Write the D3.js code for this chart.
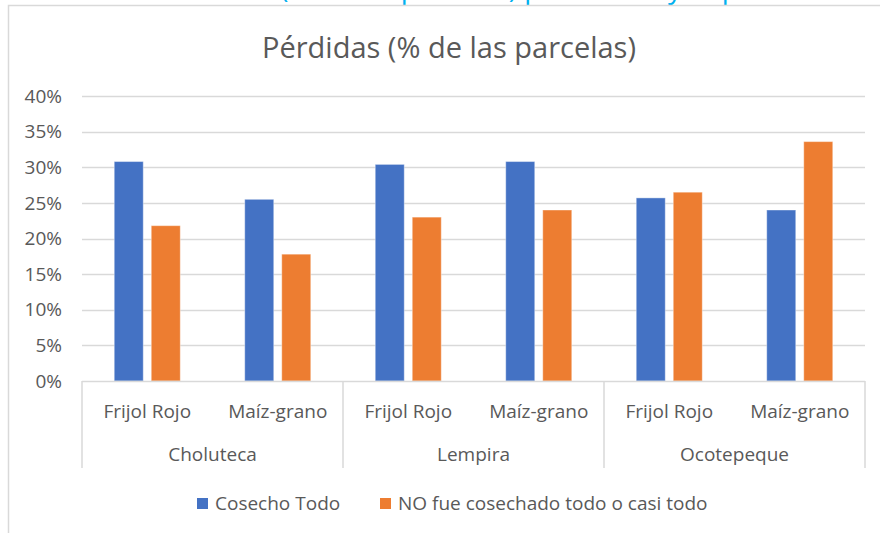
<!DOCTYPE html>
<html>
<head>
<meta charset="utf-8">
<script src="https://cdn.jsdelivr.net/npm/d3@7"></script>
<style>
  body { margin: 0; background: #fff; }
  svg text { font-family: "Open Sans", sans-serif; fill: #595959; }
</style>
</head>
<body>
<div id="chart"></div>
<script>
const groups = ["Choluteca", "Lempira", "Ocotepeque"];
const crops = ["Frijol Rojo", "Maíz-grano"];
const seriesNames = ["Cosecho Todo", "NO fue cosechado todo o casi todo"];
// % of plots, order: Choluteca FR, Choluteca MG, Lempira FR, Lempira MG, Ocotepeque FR, Ocotepeque MG
const cosechoTodo = [30.8, 25.5, 30.4, 30.8, 25.7, 24.0];
const noCosechado = [21.8, 17.8, 23.0, 24.0, 26.5, 33.6];
const yTicks = [0, 5, 10, 15, 20, 25, 30, 35, 40];
const colors = ["#4472C4", "#ED7D31"];

const width = 880, height = 533;
const margin = { top: 96, right: 15, bottom: 152, left: 82 };

const rows = [];
groups.forEach((g, gi) => {
  crops.forEach((c, ci) => {
    const i = gi * crops.length + ci;
    rows.push({ key: g + "|" + c, group: g, crop: c, values: [cosechoTodo[i], noCosechado[i]] });
  });
});

const svg = d3.select("#chart").append("svg")
  .attr("width", width).attr("height", height);

// heading of the page, cut off above the chart frame
svg.append("text")
  .attr("x", 160).attr("y", -2)
  .style("font-size", "27.7px")
  .style("fill", "#00B0F0")
  .text("Pérdidas (% de las parcelas) por cultivo y departamento");

// chart frame
svg.append("path")
  .attr("d", `M8.5,${height} V5.5 H${width}`)
  .attr("fill", "none").attr("stroke", "#d9d9d9").attr("stroke-width", 1.5);

svg.append("text")
  .attr("x", 449).attr("y", 58)
  .attr("text-anchor", "middle")
  .style("font-size", "29px")
  .text("Pérdidas (% de las parcelas)");

const x0 = d3.scaleBand()
  .domain(rows.map((d) => d.key))
  .range([margin.left, width - margin.right])
  .paddingInner(0.494).paddingOuter(0.247);

const x1 = d3.scaleBand()
  .domain(seriesNames)
  .range([0, x0.bandwidth()])
  .paddingInner(0.216);

const y = d3.scaleLinear()
  .domain([0, 40])
  .range([height - margin.bottom, margin.top]);

// gridlines
svg.append("g")
  .selectAll("line")
  .data(yTicks.slice(1))
  .join("line")
  .attr("x1", margin.left).attr("x2", width - margin.right)
  .attr("y1", (d) => Math.round(y(d)) + 0.5).attr("y2", (d) => Math.round(y(d)) + 0.5)
  .attr("stroke", "#d9d9d9").attr("stroke-width", 1.5);

// y tick labels
svg.append("g")
  .selectAll("text")
  .data(yTicks)
  .join("text")
  .attr("x", 62).attr("y", (d) => y(d))
  .attr("dy", "0.35em")
  .attr("text-anchor", "end")
  .style("font-size", "19px")
  .text((d) => d + "%");

// bars
svg.append("g")
  .selectAll("g")
  .data(rows)
  .join("g")
  .attr("transform", (d) => `translate(${x0(d.key)},0)`)
  .selectAll("rect")
  .data((d) => d.values.map((v, i) => ({ series: seriesNames[i], value: v, i })))
  .join("rect")
  .attr("x", (d) => x1(d.series))
  .attr("width", x1.bandwidth())
  .attr("y", (d) => y(d.value))
  .attr("height", (d) => y(0) - y(d.value))
  .attr("fill", (d) => colors[d.i])
  .attr("stroke", "#fff").attr("stroke-opacity", 0.4).attr("stroke-width", 1);

// category axis
const axisY = y(0);
const step = x0.step();
const axis = svg.append("g").attr("stroke", "#d9d9d9").attr("stroke-width", 1.5);
axis.append("line")
  .attr("x1", margin.left).attr("x2", width - margin.right)
  .attr("y1", axisY + 0.5).attr("y2", axisY + 0.5);
const groupEdges = d3.range(groups.length + 1).map((i) => margin.left + i * step * crops.length);
axis.selectAll("line.sep")
  .data(groupEdges)
  .join("line")
  .attr("class", "sep")
  .attr("x1", (d) => d).attr("x2", (d) => d)
  .attr("y1", axisY).attr("y2", 468);

svg.append("g")
  .selectAll("text")
  .data(rows)
  .join("text")
  .attr("x", (d) => x0(d.key) + x0.bandwidth() / 2)
  .attr("y", 418)
  .attr("text-anchor", "middle")
  .style("font-size", "19px")
  .text((d) => d.crop);

svg.append("g")
  .selectAll("text")
  .data(groups)
  .join("text")
  .attr("x", (d, i) => (groupEdges[i] + groupEdges[i + 1]) / 2)
  .attr("y", 461)
  .attr("text-anchor", "middle")
  .style("font-size", "19px")
  .text((d) => d);

// legend
const legendX = [197, 380];
const legend = svg.append("g")
  .selectAll("g")
  .data(seriesNames)
  .join("g")
  .attr("transform", (d, i) => `translate(${legendX[i]},498)`);
legend.append("rect")
  .attr("width", 11).attr("height", 11)
  .attr("fill", (d, i) => colors[i]);
legend.append("text")
  .attr("x", 18).attr("y", 5.5).attr("dy", "0.35em")
  .style("font-size", "19px")
  .text((d) => d);
</script>
</body>
</html>
